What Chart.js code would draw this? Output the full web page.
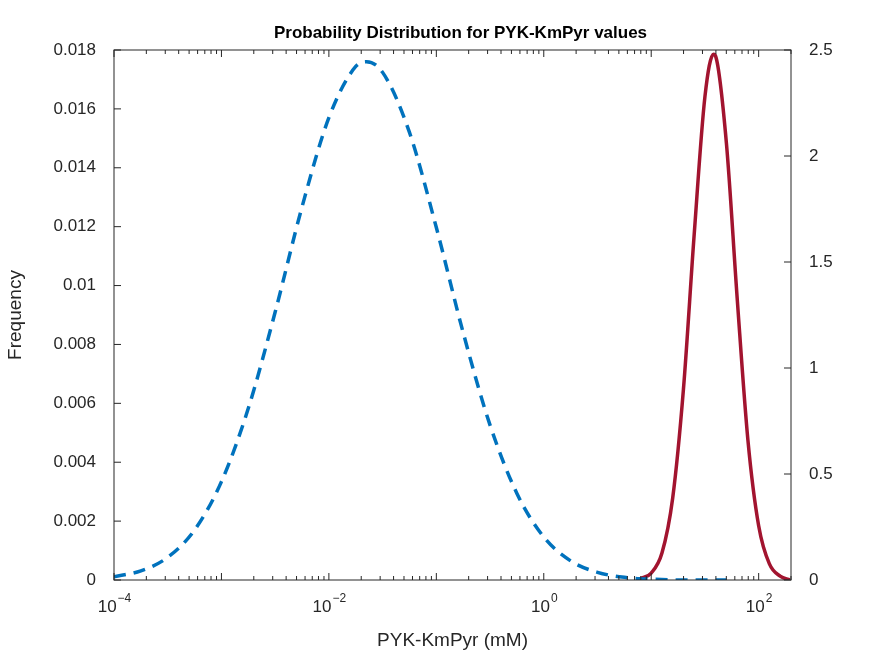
<!DOCTYPE html>
<html><head><meta charset="utf-8">
<script src="https://cdn.jsdelivr.net/npm/chart.js@4"></script>
<style>html,body{margin:0;background:#fff}#w{width:875px;height:656px}</style>
</head><body><div id="w"><canvas id="c"></canvas></div>
<script>
const blueLogX=[-4,-3.75,-3.5,-3.25,-3,-2.75,-2.5,-2.25,-2,-1.75,-1.65,-1.5,-1.25,-1,-0.75,-0.5,-0.25,0,0.25,0.5,0.75,1,1.35,1.7];
const blueY=[0.00011,0.00031,0.00077,0.0017,0.00334,0.00583,0.0091,0.01267,0.0157,0.01744,0.0176,0.01724,0.0152,0.01197,0.0084,0.00526,0.00294,0.00146,0.00065,0.00026,0.00009,0.00003,0,0];
const redLogX=[0.88,0.9,1.0,1.1,1.2,1.3,1.4,1.5,1.58,1.6,1.7,1.8,1.9,2.0,2.1,2.2,2.29];
const redY=[0,0.006,0.033,0.127,0.387,0.9,1.63,2.28,2.48,2.47,2.06,1.33,0.66,0.256,0.076,0.018,0];
const leftTicks=[0,0.002,0.004,0.006,0.008,0.01,0.012,0.014,0.016,0.018];
const rightTicks=[0,0.5,1,1.5,2,2.5];
const xExp=['-4','-2','0','2'];
const F='Liberation Sans, Arial, sans-serif';
const pts=(lx,y)=>lx.map((l,i)=>({x:Math.pow(10,l),y:y[i]}));
const frame={id:'frame',afterDraw(ch){const a=ch.chartArea,c=ch.ctx;c.save();c.strokeStyle='#262626';c.lineWidth=1;c.strokeRect(a.left,a.top,a.right-a.left,a.bottom-a.top);
const xs=ch.scales.x;c.beginPath();
for(let k=-4;k<=2;k++)for(let m=1;m<=9;m++){const v=m*Math.pow(10,k);if(v>200)continue;const px=xs.getPixelForValue(v);const L=m===1?7:4;c.moveTo(px,a.bottom);c.lineTo(px,a.bottom-L);c.moveTo(px,a.top);c.lineTo(px,a.top+L);}
leftTicks.forEach(v=>{const py=ch.scales.y.getPixelForValue(v);c.moveTo(a.left,py);c.lineTo(a.left+7,py);});
rightTicks.forEach(v=>{const py=ch.scales.y2.getPixelForValue(v);c.moveTo(a.right,py);c.lineTo(a.right-7,py);});
c.stroke();
c.fillStyle='#262626';
xExp.forEach(e=>{const px=xs.getPixelForValue(Math.pow(10,+e));c.font='17px '+F;const w1=c.measureText('10').width;c.font='12px '+F;const w2=c.measureText(e.replace('-','−')).width;const x0=px-(w1+w2)/2;c.textAlign='left';c.font='17px '+F;c.fillText('10',x0,612);c.font='12px '+F;c.fillText(e.replace('-','−'),x0+w1+1,602);});
c.fillStyle='#000';c.font='bold 17px '+F;c.textAlign='center';c.fillText('Probability Distribution for PYK-KmPyr values',(a.left+a.right)/2+8,38);c.restore();}};
new Chart(document.getElementById('c'),{type:'line',
data:{datasets:[
{data:pts(blueLogX,blueY),yAxisID:'y',borderColor:'#0072BD',borderWidth:3.5,borderDash:[12,8],pointRadius:0,cubicInterpolationMode:'monotone'},
{data:pts(redLogX,redY),yAxisID:'y2',borderColor:'#A2142F',borderWidth:3.5,pointRadius:0,cubicInterpolationMode:'monotone'}]},
options:{animation:false,responsive:true,maintainAspectRatio:false,layout:{padding:{top:50,left:0,right:0,bottom:0}},
plugins:{legend:{display:false},tooltip:{enabled:false}},
scales:{
x:{type:'logarithmic',min:1e-4,max:200,grid:{display:false},border:{display:false},
afterBuildTicks(s){s.ticks=[-4,-2,0,2].map(k=>({value:Math.pow(10,k)}));},
afterFit(s){s.height=76;},
ticks:{color:'#262626',font:{family:F,size:17},padding:6,maxRotation:0,autoSkip:false,callback(){return ' ';}},
title:{display:true,text:'PYK-KmPyr (mM)',color:'#262626',font:{family:F,size:19},padding:{top:0}}},
y:{min:0,max:0.018,position:'left',grid:{display:false},border:{display:false},
afterBuildTicks(s){s.ticks=leftTicks.map(v=>({value:v}));},afterFit(s){s.width=114;},
ticks:{color:'#262626',font:{family:F,size:17},padding:10,callback:v=>String(+v.toFixed(3))},
title:{display:true,text:'Frequency',color:'#262626',font:{family:F,size:19},padding:{bottom:0}}},
y2:{min:0,max:2.5,position:'right',grid:{display:false},border:{display:false},
afterBuildTicks(s){s.ticks=rightTicks.map(v=>({value:v}));},afterFit(s){s.width=84;},
ticks:{color:'#262626',font:{family:F,size:17},padding:10,callback:v=>String(v)}}}},
plugins:[frame]});
</script></body></html>
